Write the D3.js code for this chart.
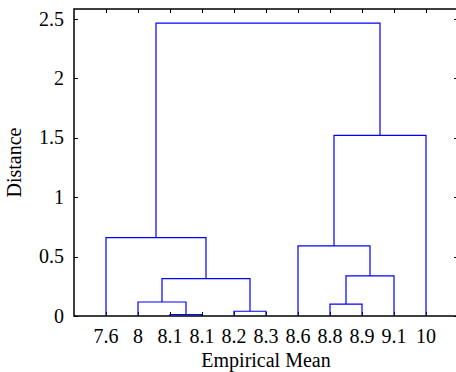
<!DOCTYPE html>
<html><head><meta charset="utf-8">
<script src="https://cdn.jsdelivr.net/npm/d3@7"></script>
<style>body{margin:0;background:#fff}svg{display:block}</style>
</head><body>
<svg id="c" width="456" height="372"></svg>
<script>
// Leaf labels (in dendrogram order)
const leafLabels = ["7.6","8","8.1","8.1","8.2","8.3","8.6","8.8","8.9","9.1","10"];
// Linkage: [left node, right node, height]; leaves are 0..10, new clusters 11..
const linkLeft   = [2, 1, 4, 12, 0, 7, 16, 6, 18, 15];
const linkRight  = [3, 11, 5, 13, 14, 8, 9, 17, 10, 19];
const linkHeight = [0.012, 0.118, 0.040, 0.315, 0.66, 0.10, 0.337, 0.59, 1.52, 2.465];
const yTicks = [0, 0.5, 1, 1.5, 2, 2.5];
const yTickLabels = ["0","0.5","1","1.5","2","2.5"];

const L = 74, R = 458, T = 9, B = 316;
const n = leafLabels.length;
const yMax = d3.max(linkHeight) * 1.048;
const x = d3.scaleLinear().domain([0, n + 1]).range([L, R]);
const y = d3.scaleLinear().domain([0, yMax]).range([B, T]);

const svg = d3.select("#c");
const font = "'Liberation Serif','Times New Roman',serif";
const fs = 20;

// node positions
const pos = [];
leafLabels.forEach((d, i) => pos.push({ xv: i + 1, h: 0 }));
linkLeft.forEach((a, k) => {
  const b = linkRight[k];
  pos.push({ xv: (pos[a].xv + pos[b].xv) / 2, h: linkHeight[k] });
});

// ticks (inward)
const tl = 4;
const g = svg.append("g");
leafLabels.forEach((d, i) => {
  const xx = Math.round(x(i + 1)) + 0.5;
  g.append("line").attr("x1", xx).attr("x2", xx).attr("y1", B).attr("y2", B - tl).attr("stroke", "#000");
  g.append("line").attr("x1", xx).attr("x2", xx).attr("y1", T).attr("y2", T + tl).attr("stroke", "#000");
});
yTicks.forEach(v => {
  const yy = Math.round(y(v)) + 0.5;
  g.append("line").attr("x1", L).attr("x2", L + tl).attr("y1", yy).attr("y2", yy).attr("stroke", "#000");
  g.append("line").attr("x1", R).attr("x2", R - tl).attr("y1", yy).attr("y2", yy).attr("stroke", "#000");
});

// links
const lg = svg.append("g").attr("fill", "none").attr("stroke", "#0000ff").attr("stroke-width", 1.2);
linkLeft.forEach((a, k) => {
  const b = linkRight[k];
  const h = linkHeight[k];
  const p = d3.path();
  p.moveTo(x(pos[a].xv), y(pos[a].h));
  p.lineTo(x(pos[a].xv), y(h));
  p.lineTo(x(pos[b].xv), y(h));
  p.lineTo(x(pos[b].xv), y(pos[b].h));
  lg.append("path").attr("d", p.toString());
});

// box
svg.append("rect").attr("x", L).attr("y", T).attr("width", R - L).attr("height", B - T)
  .attr("fill", "none").attr("stroke", "#000").attr("stroke-width", 1.5);

// tick labels
leafLabels.forEach((d, i) => {
  svg.append("text").attr("x", x(i + 1)).attr("y", 343).attr("text-anchor", "middle")
    .attr("font-family", font).attr("font-size", fs).text(d);
});
yTicks.forEach((v, i) => {
  svg.append("text").attr("x", 64).attr("y", y(v)).attr("dy", "0.33em").attr("text-anchor", "end")
    .attr("font-family", font).attr("font-size", fs).text(yTickLabels[i]);
});

// axis titles
svg.append("text").attr("x", (L + R) / 2).attr("y", 367).attr("text-anchor", "middle")
  .attr("font-family", font).attr("font-size", fs).text("Empirical Mean");
svg.append("text").attr("transform", `translate(21,${(T + B) / 2}) rotate(-90)`).attr("text-anchor", "middle")
  .attr("font-family", font).attr("font-size", fs).text("Distance");
</script>
</body></html>
